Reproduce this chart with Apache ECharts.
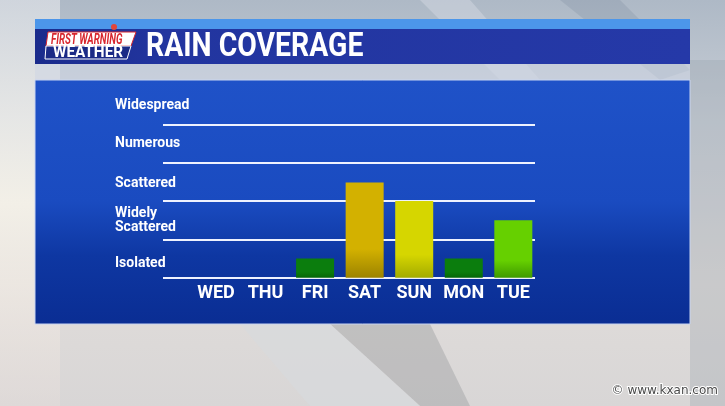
<!DOCTYPE html>
<html>
<head>
<meta charset="utf-8">
<script src="https://cdn.jsdelivr.net/npm/echarts@6/dist/echarts.min.js"></script>
<style>
html,body{margin:0;padding:0;background:#c9ced6;}
#chart{width:725px;height:406px;}
</style>
</head>
<body>
<div id="chart"></div>
<script>
// ---- data ----
var days = ['WED', 'THU', 'FRI', 'SAT', 'SUN', 'MON', 'TUE'];
var coverage = [0, 0, 0.5, 2.48, 2.0, 0.5, 1.5];
var coverageLevels = ['Isolated', 'Widely\nScattered', 'Scattered', 'Numerous', 'Widespread'];
var chartTitle = 'RAIN COVERAGE';
var credit = '\u00a9 www.kxan.com';

// ---- styles ----
var barTops = ['#0b7d0d', '#0b7d0d', '#0b7d0d', '#d3b100', '#d6d600', '#0b7d0d', '#66d000'];
var barBottoms = ['#066608', '#066608', '#066608', '#9c8300', '#a3ab00', '#066608', '#3f9a00'];

function grad(x, y, x2, y2, stops) {
  return new echarts.graphic.LinearGradient(x, y, x2, y2, stops);
}

var chart = echarts.init(document.getElementById('chart'), null, {renderer: 'canvas'});

var barData = coverage.map(function (v, i) {
  return {
    value: v,
    itemStyle: {
      color: grad(0, 0, 0, 1, [
        {offset: 0, color: barTops[i]},
        {offset: 0.7, color: barTops[i]},
        {offset: 1, color: barBottoms[i]}
      ])
    }
  };
});

var option = {
  animation: false,
  graphic: [
    // sky background
    {type: 'rect', z: -20, shape: {x: 0, y: 0, width: 725, height: 406},
      style: {fill: grad(0, 0, 0, 1, [
        {offset: 0, color: '#aeb9c6'}, {offset: 0.3, color: '#c8ced6'},
        {offset: 0.7, color: '#e0dcda'}, {offset: 1, color: '#d8d6d6'}])}},
    {type: 'rect', z: -19, shape: {x: 0, y: 0, width: 60, height: 406},
      style: {fill: grad(0, 0, 0, 1, [
        {offset: 0, color: 'rgba(230,232,236,0.6)'}, {offset: 0.5, color: 'rgba(250,246,235,0.8)'},
        {offset: 1, color: 'rgba(228,220,218,0.5)'}])}},
    {type: 'polygon', z: -18, shape: {points: [[420, 0], [470, 0], [540, 80], [500, 80]]},
      style: {fill: 'rgba(225,230,238,0.35)'}},
    {type: 'polygon', z: -18, shape: {points: [[560, 0], [620, 0], [690, 70], [660, 80]]},
      style: {fill: 'rgba(120,135,155,0.25)'}},
    {type: 'polygon', z: -18, shape: {points: [[330, 324], [430, 324], [470, 406], [420, 406]]},
      style: {fill: 'rgba(150,152,156,0.4)'}},
    {type: 'polygon', z: -18, shape: {points: [[240, 324], [330, 324], [420, 406], [310, 406]]},
      style: {fill: 'rgba(215,218,222,0.6)'}},
    {type: 'rect', z: -18, shape: {x: 690, y: 60, width: 35, height: 346},
      style: {fill: 'rgba(150,158,168,0.3)'}},
    // translucent band below header
    {type: 'rect', z: -15, shape: {x: 35, y: 64, width: 655, height: 16},
      style: {fill: 'rgba(205,214,228,0.55)'}},
    // header strips
    {type: 'rect', z: -15, shape: {x: 35, y: 19, width: 655, height: 10}, style: {fill: '#4c96ea'}},
    {type: 'rect', z: -15, shape: {x: 35, y: 29, width: 655, height: 35},
      style: {fill: grad(0, 0, 1, 0, [
        {offset: 0, color: '#1a2b8c'}, {offset: 0.2, color: '#22359f'}, {offset: 1, color: '#2539a8'}])}},
    // logo
    {type: 'polygon', z: -14, shape: {points: [[48, 32], [136, 32], [131, 46], [46, 46]]},
      style: {fill: '#ffffff', stroke: '#d8262e', lineWidth: 1}},
    {type: 'polygon', z: -14, shape: {points: [[46, 46], [131, 46], [127, 59], [45, 59]]},
      style: {fill: '#1b2a86', stroke: '#ffffff', lineWidth: 1}},
    {type: 'circle', z: -13, shape: {cx: 114, cy: 27, r: 3}, style: {fill: '#e2463a'}},
    {type: 'text', z: -13, x: 51, y: 40, scaleX: 0.7,
      style: {text: 'FIRST WARNING', fill: '#d8262e', font: 'italic bold 14px Roboto', textVerticalAlign: 'middle'}},
    {type: 'text', z: -13, x: 53, y: 53, scaleX: 0.9,
      style: {text: 'WEATHER', fill: '#ffffff', font: 'bold 17px Roboto', textVerticalAlign: 'middle'}},
    // title
    {type: 'text', z: -13, x: 146, y: 47, scaleX: 0.835,
      style: {text: chartTitle, fill: '#ffffff', font: 'bold 34px Roboto', textVerticalAlign: 'middle'}},
    // blue panel
    {type: 'rect', z: -15, shape: {x: 35, y: 80, width: 655, height: 244},
      style: {fill: grad(0, 0, 0, 1, [
        {offset: 0, color: '#1f52c8'}, {offset: 0.5, color: '#1a4bc0'},
        {offset: 0.72, color: '#0e37a2'}, {offset: 1, color: '#0a2d93'}]),
        stroke: '#c8d4f0', lineWidth: 1}},
    // credit
    {type: 'text', z: -13, x: 718, y: 391,
      style: {text: credit, fill: '#4a4a4a', font: '12px "DejaVu Sans"', textAlign: 'right',
        textVerticalAlign: 'middle', stroke: '#ffffff', lineWidth: 2}}
  ],
  grid: [
    {left: 163, right: 190, top: 86, bottom: 128.3},
    {left: 191.2, right: 186.9, top: 86, bottom: 128.3}
  ],
  xAxis: [
    {gridIndex: 0, type: 'value', min: 0, max: 1, show: false},
    {gridIndex: 1, type: 'category', data: days, z: 5,
      axisLine: {show: false}, axisTick: {show: false}, splitLine: {show: false},
      axisLabel: {interval: 0, color: '#ffffff', fontFamily: 'Roboto', fontWeight: 'bold', fontSize: 18, margin: 7}}
  ],
  yAxis: [
    {gridIndex: 0, type: 'value', min: 0, max: 5, interval: 1, z: 5,
      axisLine: {show: false}, axisTick: {show: false}, axisLabel: {show: false},
      splitLine: {show: true, showMaxLine: false, lineStyle: {color: '#eef2ff', width: 2}}},
    {gridIndex: 0, type: 'category', data: coverageLevels, position: 'left', boundaryGap: true, z: 5,
      axisLine: {show: false}, axisTick: {show: false}, splitLine: {show: false},
      axisLabel: {interval: 0, color: '#ffffff', fontFamily: 'Roboto', fontWeight: 'bold', fontSize: 14,
        lineHeight: 14, align: 'left', margin: 48,
        formatter: function (v, i) {
          return i === 0 ? '{low|' + v + '}' : (i === 2 ? '{mid|' + v + '}' : v);
        },
        rich: {
          low: {color: '#ffffff', fontFamily: 'Roboto', fontWeight: 'bold', fontSize: 14, lineHeight: 14, padding: [9, 0, 0, 0]},
          mid: {color: '#ffffff', fontFamily: 'Roboto', fontWeight: 'bold', fontSize: 14, lineHeight: 14, padding: [3, 0, 0, 0]}
        }}},
    {gridIndex: 1, type: 'value', min: 0, max: 5, interval: 1, show: false}
  ],
  series: [
    {type: 'bar', xAxisIndex: 1, yAxisIndex: 2, data: barData, barWidth: 38, z: 6}
  ]
};
chart.setOption(option);
</script>
</body>
</html>
